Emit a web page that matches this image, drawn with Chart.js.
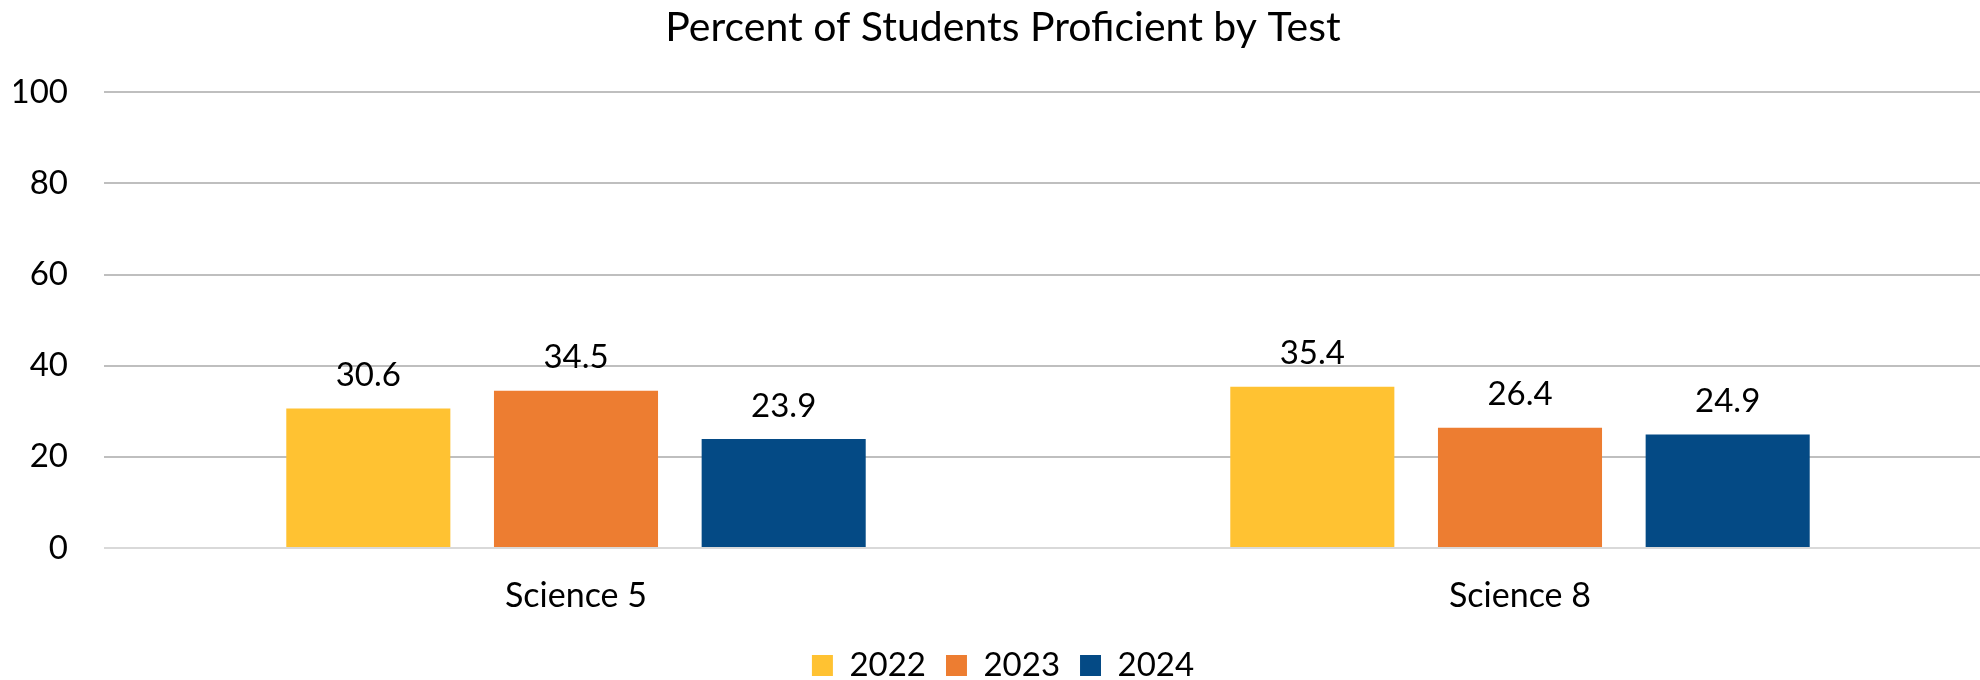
<!DOCTYPE html>
<html>
<head>
<meta charset="utf-8">
<script src="https://cdn.jsdelivr.net/npm/chart.js@4.4.1/dist/chart.umd.min.js"></script>
<style>
  html, body { margin: 0; padding: 0; background: #fff; overflow: hidden; }
  #wrap { width: 2016px; height: 680px; }
</style>
</head>
<body>
<div id="wrap"><canvas id="profChart" width="2016" height="680"></canvas></div>
<script>
const tests = ["Science 5", "Science 8"];
const years = ["2022", "2023", "2024"];
const scores2022 = [30.6, 35.4];
const scores2023 = [34.5, 26.4];
const scores2024 = [23.9, 24.9];
const yTicks = [0, 20, 40, 60, 80, 100];

const yearColors = ["#FFC232", "#ED7D31", "#044A85"];
const FONT = "Lato";

// writes the value above each bar, like Excel data labels
const barValues = {
  id: "barValues",
  afterDatasetsDraw(chart) {
    const ctx = chart.ctx;
    ctx.save();
    ctx.font = "33px " + FONT;
    ctx.fillStyle = "#000";
    ctx.textAlign = "center";
    ctx.textBaseline = "middle";
    chart.data.datasets.forEach((ds, i) => {
      chart.getDatasetMeta(i).data.forEach((bar, j) => {
        ctx.fillText(ds.data[j].toFixed(1), bar.x, bar.y - 33);
      });
    });
    ctx.restore();
  }
};

new Chart(document.getElementById("profChart"), {
  type: "bar",
  data: {
    labels: tests,
    datasets: [
      { label: years[0], data: scores2022, backgroundColor: yearColors[0] },
      { label: years[1], data: scores2023, backgroundColor: yearColors[1] },
      { label: years[2], data: scores2024, backgroundColor: yearColors[2] },
    ]
  },
  options: {
    responsive: false,
    animation: false,
    categoryPercentage: 0.66,
    barPercentage: 0.79,
    layout: {
      padding: { left: 14, right: 24, top: 0, bottom: -12 }
    },
    scales: {
      x: {
        grid: { display: false },
        border: { display: false },
        ticks: {
          color: "#000",
          padding: 20,
          font: { family: FONT, size: 34 }
        },
        afterFit(scale) { scale.height = 81; }
      },
      y: {
        min: 0,
        max: 100,
        afterBuildTicks(scale) { scale.ticks = yTicks.map(v => ({ value: v })); },
        grid: {
          drawTicks: false,
          color: (c) => c.tick && c.tick.value === 0 ? "#D9D9D9" : "#BFBFBF",
          lineWidth: 2
        },
        border: { display: false },
        ticks: {
          color: "#000",
          padding: 36,
          font: { family: FONT, size: 33 }
        },
        afterFit(scale) { scale.width = 90; }
      }
    },
    plugins: {
      title: {
        display: true,
        text: "Percent of Students Proficient by Test",
        color: "#000",
        font: { family: FONT, size: 41, weight: "normal" },
        padding: { top: 3, bottom: 40 }
      },
      legend: {
        position: "bottom",
        labels: {
          color: "#000",
          boxWidth: 21,
          boxHeight: 21,
          padding: 20,
          font: { family: FONT, size: 33 }
        }
      },
      tooltip: { enabled: false }
    }
  },
  plugins: [barValues]
});
</script>
</body>
</html>
